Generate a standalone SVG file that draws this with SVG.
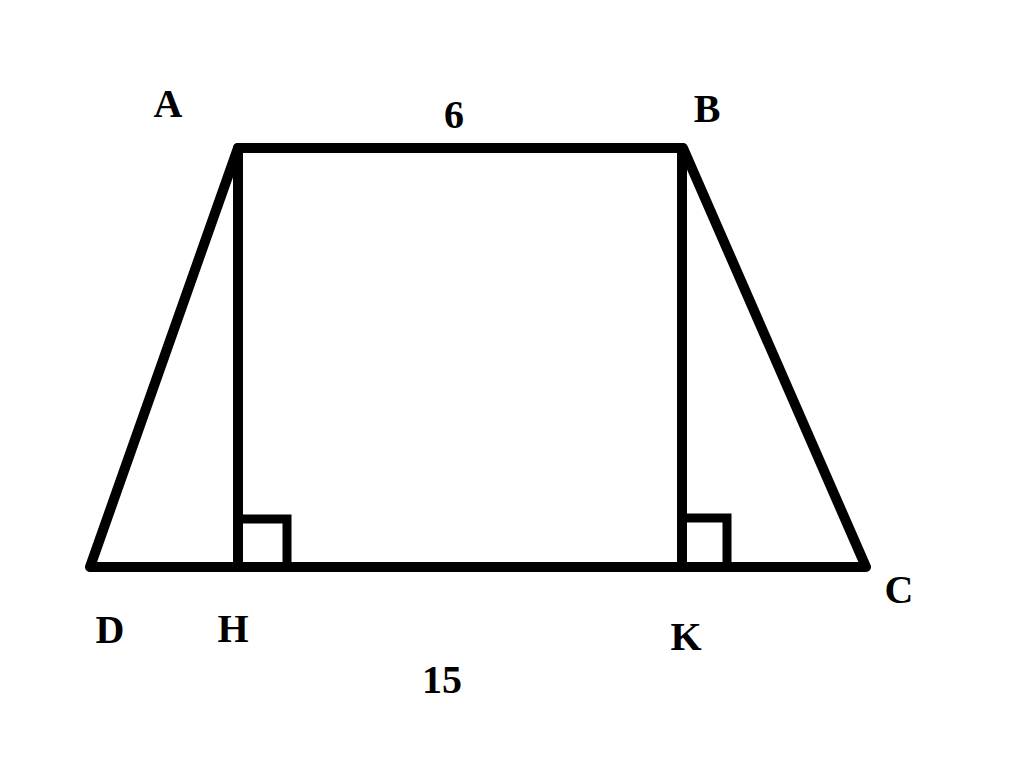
<svg xmlns="http://www.w3.org/2000/svg" width="1024" height="774" viewBox="0 0 1024 774">
<style>
.ln{stroke:#000;stroke-width:10;fill:none;stroke-linejoin:round;stroke-linecap:round}
.sq{stroke:#000;stroke-width:9;fill:none;stroke-linejoin:miter}
text{font-family:"Liberation Serif","Times New Roman",serif;font-weight:bold;font-size:40px;fill:#000;text-anchor:middle}
</style>
<rect width="1024" height="774" fill="#fff"/>
<g id="connectors">
<polyline class="ln" points="90,567 238,148 683,148 866,567 90,567"/>
<line class="ln" x1="238" y1="148" x2="238" y2="567"/>
<line class="ln" x1="682" y1="148" x2="682" y2="567"/>
<polyline class="sq" points="238,519 287,519 287,567"/>
<polyline class="sq" points="682,518 727,518 727,567"/>
</g>
<g id="labels">
<text x="168" y="117">A</text>
<text x="707" y="122">B</text>
<text x="454" y="128">6</text>
<text x="899" y="603">C</text>
<text x="110" y="643">D</text>
<text x="233" y="642">H</text>
<text x="686" y="650">K</text>
<text x="442" y="693">15</text>
</g>
</svg>
